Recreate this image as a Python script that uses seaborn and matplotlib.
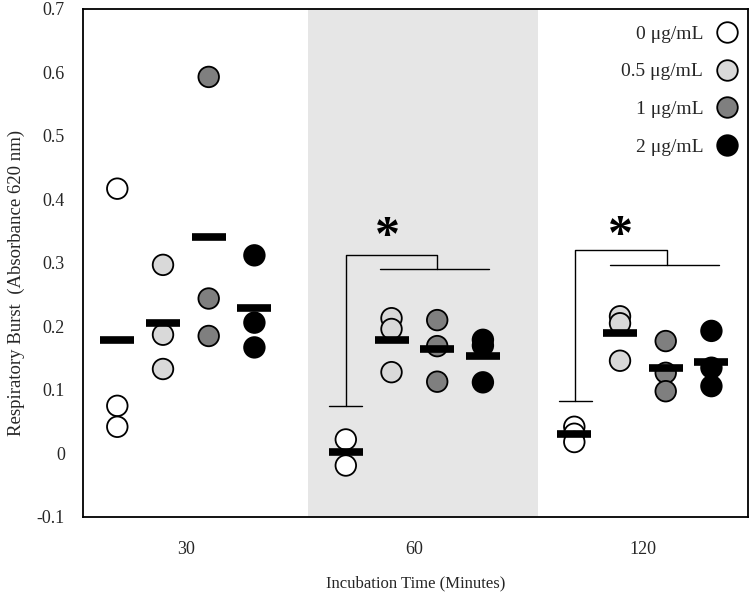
import numpy as np
import pandas as pd
import matplotlib
matplotlib.use("Agg")
import matplotlib.pyplot as plt
import seaborn as sns

times = ["30", "60", "120"]
concs = ["0 μg/mL", "0.5 μg/mL", "1 μg/mL", "2 μg/mL"]
colors = ["#ffffff", "#d9d9d9", "#7f7f7f", "#000000"]

vals_30 = [[0.417, 0.075, 0.042], [0.297, 0.187, 0.133], [0.593, 0.244, 0.185], [0.312, 0.206, 0.167]]
vals_60 = [[0.022, -0.019], [0.213, 0.196, 0.128], [0.210, 0.169, 0.113], [0.179, 0.170, 0.112]]
vals_120 = [[0.042, 0.031, 0.018], [0.216, 0.205, 0.146], [0.177, 0.127, 0.098], [0.193, 0.135, 0.106]]

ytick_vals = [-0.1, 0, 0.1, 0.2, 0.3, 0.4, 0.5, 0.6, 0.7]
ytick_labels = ["-0.1", "0", "0.1", "0.2", "0.3", "0.4", "0.5", "0.6", "0.7"]

# significance brackets: (x_left, tick_half, y_top, y_low, x_join, x_r1, x_r2, y_right, star_x, star_y)
brackets = [
    (0.699, 0.072, 0.312, 0.074, 1.100, 0.849, 1.326, 0.290, 0.884, 0.339),
    (1.705, 0.072, 0.320, 0.082, 2.104, 1.856, 2.334, 0.297, 1.902, 0.341),
]

rows = []
for t, group in zip(times, [vals_30, vals_60, vals_120]):
    for c, vs in zip(concs, group):
        for v in vs:
            rows.append({"time": t, "conc": c, "value": v})
df = pd.DataFrame(rows)

sns.set_style("white")
plt.rcParams["font.family"] = ["Liberation Serif", "DejaVu Serif"]

fig = plt.figure(figsize=(7.5, 5.99), dpi=100)
ax = fig.add_axes([0.1107, 0.137, 0.8866, 0.848])

ax.axvspan(0.535, 1.54, color="#e6e6e6", zorder=0, lw=0)

sns.stripplot(data=df, x="time", y="value", hue="conc", order=times, hue_order=concs,
              palette=colors, dodge=True, jitter=False, size=14.8, linewidth=1.3,
              edgecolor="black", ax=ax, zorder=3)

sns.pointplot(data=df, x="time", y="value", hue="conc", order=times, hue_order=concs,
              palette=["black"] * 4, dodge=0.6, estimator="mean", errorbar=None,
              markers="_", linestyles="none", markersize=25, markeredgewidth=5.5,
              legend=False, ax=ax, zorder=5)

for (xl, th, yt, yl, xj, xr1, xr2, yr, sx, sy) in brackets:
    ax.plot([xl - th, xl + th], [yl, yl], color="black", lw=1.0, zorder=4)
    ax.plot([xl, xl, xj, xj], [yl, yt, yt, yr], color="black", lw=1.0, zorder=4)
    ax.plot([xr1, xr2], [yr, yr], color="black", lw=1.0, zorder=4)
    ax.text(sx, sy, "*", ha="center", va="center", fontsize=36, fontweight="bold",
            color="black", zorder=4)

ax.set_xlim(-0.45, 2.46)
ax.set_ylim(-0.1, 0.7)
ax.set_yticks(ytick_vals)
ax.set_yticklabels(ytick_labels)
ax.tick_params(axis="both", length=0)
ax.tick_params(axis="x", pad=17, labelsize=13)
ax.tick_params(axis="y", pad=13, labelsize=13)
ax.set_xlabel("Incubation Time (Minutes)", fontsize=12, labelpad=13)
ax.set_ylabel("Respiratory Burst  (Absorbance 620 nm)", fontsize=13.5)
ax.yaxis.set_label_coords(-0.087, 0.46)
for s in ax.spines.values():
    s.set_color("black")
    s.set_linewidth(1.3)

leg = ax.legend(loc="upper right", bbox_to_anchor=(1.0, 0.99), frameon=False,
                markerfirst=False, fontsize=14,
                labelspacing=1.03, handlelength=1.0, handletextpad=0.73,
                borderpad=0.5, borderaxespad=0.07)
for h in leg.legend_handles:
    h.set_markeredgecolor("black")
    h.set_markeredgewidth(1.3)

fig.savefig("out.png", dpi=100)
